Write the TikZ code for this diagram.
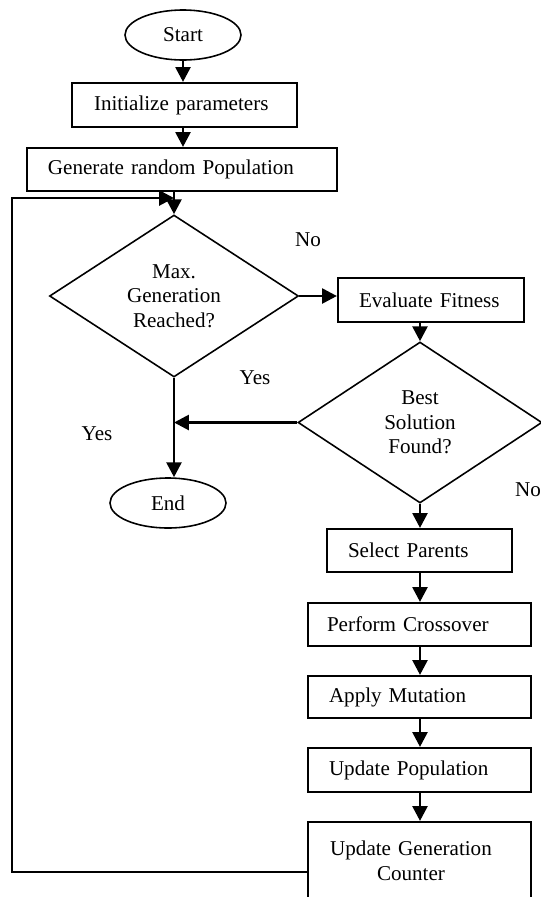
\documentclass[tikz,border=0pt]{standalone}
\usepackage{fontspec}
\setmainfont{Liberation Serif}
\usetikzlibrary{shapes.geometric,arrows.meta,calc}
\newlength\pxu
\setlength\pxu{0.569pt}
\begin{document}
\begin{tikzpicture}[x=0.569pt, y=-0.569pt, font=\fontsize{12}{14}\selectfont,
  flowbox/.style={draw, line width=1.2pt, inner ysep=0pt, align=left, anchor=center},
  term/.style={draw, ellipse, line width=0.9pt, minimum width=116\pxu, minimum height=50\pxu, inner sep=0pt},
  decide/.style={draw, diamond, line width=0.9pt, inner sep=0pt, align=center},
  arr/.style={line width=1.6pt, -{Triangle[length=8.5pt,width=8.5pt]}},
  lbl/.style={inner sep=0pt}]
\useasboundingbox (0,0) rectangle (541,897);
\clip (0,0) rectangle (541,897);

% nodes
\node[term] (start) at (183,35) {Start};
\node[flowbox, text width=181\pxu, inner xsep=22\pxu, minimum height=44\pxu] (init) at (184.5,105) {Initialize parameters};
\node[flowbox, text width=268\pxu, inner xsep=21\pxu, minimum height=43\pxu] (gen) at (182,169.5) {Generate random Population};
\node[decide, minimum width=249\pxu, minimum height=162\pxu, aspect=1.537] (d1) at (174,296) {Max.\\Generation\\Reached?};
\node[flowbox, text width=144\pxu, inner xsep=21\pxu, minimum height=44\pxu] (eval) at (431,300) {Evaluate Fitness};
\node[decide, minimum width=244\pxu, minimum height=161\pxu, aspect=1.515] (d2) at (420,422.5) {Best\\Solution\\Found?};
\node[term] (end) at (168,503) {End};
\node[flowbox, text width=143\pxu, inner xsep=21\pxu, minimum height=43\pxu] (sel) at (419.5,550.5) {Select Parents};
\node[flowbox, text width=185\pxu, inner xsep=19\pxu, minimum height=43\pxu] (cross) at (419.5,624.5) {Perform Crossover};
\node[flowbox, text width=181\pxu, inner xsep=21\pxu, minimum height=42\pxu] (mut) at (419.5,697) {Apply Mutation};
\node[flowbox, text width=181\pxu, inner xsep=21\pxu, minimum height=44\pxu] (pop) at (419.5,770) {Update Population};
\node[flowbox, text width=185\pxu, inner xsep=19\pxu, minimum height=78\pxu] (cnt) at (419.5,861) {\makebox[168\pxu]{Update Generation}\\\makebox[168\pxu]{Counter}};

% labels
\node[lbl] (no1) at (308,240) {No};
\node[lbl] (yes1) at (255,378) {Yes};
\node[lbl] (yes2) at (97,434) {Yes};
\node[lbl] (no2) at (528,490) {No};

% connectors
\draw[arr] (start.south) -- (start.south |- init.north);
\draw[arr] (init.south -| start.south) -- (start.south |- gen.north);
\draw[arr] (gen.south -| d1.north) -- (d1.north);
\draw[arr] (d1.east) -- (d1.east -| eval.west);
\draw[arr] (eval.south -| d2.north) -- (d2.north);
\draw[arr] (d2.west) -- (d2.west -| d1.south);
\draw[arr] (d1.south) -- (d1.south |- end.north);
\draw[arr] (d2.south) -- (d2.south |- sel.north);
\draw[arr] (sel.south -| d2.south) -- (d2.south |- cross.north);
\draw[arr] (cross.south -| d2.south) -- (d2.south |- mut.north);
\draw[arr] (mut.south -| d2.south) -- (d2.south |- pop.north);
\draw[arr] (pop.south -| d2.south) -- (d2.south |- cnt.north);

\coordinate (lb) at (12,872);
\coordinate (lt) at (12,198);
\coordinate (lin) at (174,198);
\draw[arr] (cnt.west |- lb) -- (lb) -- (lt) -- (lin);
\end{tikzpicture}
\end{document}
